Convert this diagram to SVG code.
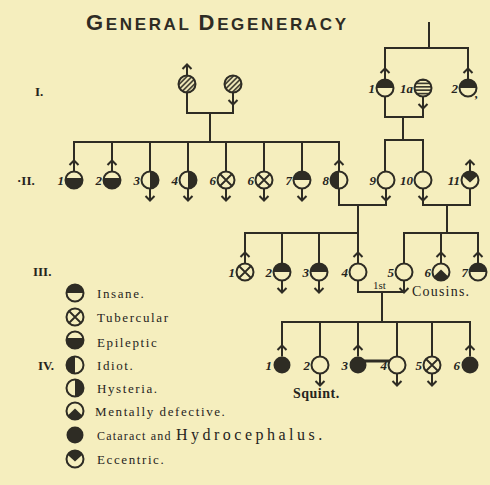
<svg xmlns="http://www.w3.org/2000/svg" width="490" height="485" viewBox="0 0 490 485">
<style>
.ln{stroke:#2e2c24;stroke-width:2;fill:none;stroke-linecap:square}
.num{font-family:"Liberation Serif",serif;font-style:italic;font-weight:bold;font-size:13px;fill:#26241d}
.gen{font-family:"Liberation Serif",serif;font-weight:bold;font-size:13px;fill:#26241d}
.leg{font-family:"Liberation Serif",serif;font-size:13px;letter-spacing:1.6px;fill:#26241d}
.ttl{font-family:"Liberation Sans",sans-serif;font-weight:bold;fill:#2e2c24}
</style>
<defs>
<pattern id="diag" width="3.6" height="3.6" patternUnits="userSpaceOnUse" patternTransform="rotate(-45)"><line x1="0" y1="1.8" x2="3.6" y2="1.8" stroke="#2e2c24" stroke-width="1.5"/></pattern>
<pattern id="horiz" width="4" height="3.4" patternUnits="userSpaceOnUse" y="0.5"><line x1="0" y1="1.7" x2="4" y2="1.7" stroke="#2e2c24" stroke-width="1.6"/></pattern>
<path id="up" d="M0,-8.5V-19.5M-4.5,-15L0,-19.5L4.5,-15" stroke="#2e2c24" stroke-width="2" fill="none"/>
<path id="down" d="M0,8.5V20.5M-4.5,16L0,20.5L4.5,16" stroke="#2e2c24" stroke-width="2" fill="none"/>
<circle id="bg" r="8.5" fill="#f5eebe"/>
<circle id="ring" r="8.5" fill="none" stroke="#2e2c24" stroke-width="2"/>
<path id="top" d="M-8.5,0A8.5,8.5 0 0 1 8.5,0Z" fill="#2e2c24"/>
<path id="bot" d="M-8.26,-2A8.5,8.5 0 1 0 8.26,-2Z" fill="#2e2c24"/>
<path id="left" d="M0,-8.5A8.5,8.5 0 0 0 0,8.5Z" fill="#2e2c24"/>
<path id="right" d="M0,-8.5A8.5,8.5 0 0 1 0,8.5Z" fill="#2e2c24"/>
<path id="tub" d="M-6,-6L6,6M-6,6L6,-6" stroke="#2e2c24" stroke-width="1.8" fill="none"/>
<path id="ment" d="M-7.2,4.5L0,-2.5L7.2,4.5A8.5,8.5 0 0 1 -7.2,4.5Z" fill="#2e2c24"/>
<circle id="full" r="8.5" fill="#2e2c24"/>
<path id="ecc" d="M-7.4,-4.2L0,2.5L7.4,-4.2A8.5,8.5 0 0 0 -7.4,-4.2Z" fill="#2e2c24"/>
<circle id="hatch" r="8.5" fill="url(#diag)"/>
<circle id="stripe" r="8.5" fill="url(#horiz)"/>
</defs>
<rect width="490" height="485" fill="#f5eebe"/>

<text class="ttl" x="86" y="30" textLength="260" lengthAdjust="spacing"><tspan font-size="22">G</tspan><tspan font-size="17">ENERAL </tspan><tspan font-size="22">D</tspan><tspan font-size="17">EGENERACY</tspan></text>

<g id="gen-labels">
<text class="gen" x="35" y="96">I.</text>
<text class="gen" x="17" y="185">·II.</text>
<text class="gen" x="33" y="276">III.</text>
<text class="gen" x="38" y="370">IV.</text>
</g>

<g id="connectors" class="ln">
<path d="M429,23V48M385,48H468M385,48V68.5M468,48V68.5M385,96.5V117M423,108.5V117M385,117H423M403,117V140M385,140H423M385,140V171.5M423,140V171.5"/>
<path d="M187,92.5V113M233,104.5V113M187,113H233M210,113V142"/>
<path d="M74,142H339M74,142V160.5M112,142V160.5M339,142V160.5M150,142V171.5M188,142V171.5M226,142V171.5M264,142V171.5M302,142V171.5"/>
<path d="M339,188.5V205M386,200.5V205M339,205H386M358,205V233M423,200.5V205M470,188.5V205M423,205H470M447,205V233"/>
<path d="M245,233H358M245,233V252.5M358,233V252.5M282,233V263.5M319,233V263.5M404,233H478M404,233V263.5M441,233V252.5M478,233V252.5"/>
<path d="M358,280.5V292M358,292H404M382,292V322"/>
<path d="M282,322H470M282,322V345.5M358,322V345.5M470,322V345.5M320,322V356.5M397,322V356.5M432,322V356.5"/>
<path d="M358,361H397" stroke-width="3.2"/>
</g>

<g id="g1-m" transform="translate(187,84)"><use href="#up"/><use href="#bg"/><use href="#hatch"/><use href="#ring"/></g>
<g id="g1-f" transform="translate(233,84)"><use href="#down"/><use href="#bg"/><use href="#hatch"/><use href="#ring"/></g>
<g id="g1-1" transform="translate(385,88)"><use href="#up"/><use href="#bg"/><use href="#top"/><use href="#ring"/><text class="num" x="-10" y="5" text-anchor="end">1</text></g>
<g id="g1-1a" transform="translate(423,88)"><use href="#down"/><use href="#bg"/><use href="#stripe"/><use href="#ring"/><text class="num" x="-10" y="5" text-anchor="end">1a</text></g>
<g id="g1-2" transform="translate(468,88)"><use href="#up"/><use href="#bg"/><use href="#top"/><use href="#ring"/><text class="num" x="-10" y="5" text-anchor="end">2</text><text class="num" x="7" y="10">,</text></g>

<g id="g2-1" transform="translate(74,180)"><use href="#up"/><use href="#bg"/><use href="#bot"/><use href="#ring"/><text class="num" x="-10" y="5" text-anchor="end">1</text></g>
<g id="g2-2" transform="translate(112,180)"><use href="#up"/><use href="#bg"/><use href="#bot"/><use href="#ring"/><text class="num" x="-10" y="5" text-anchor="end">2</text></g>
<g id="g2-3" transform="translate(150,180)"><use href="#down"/><use href="#bg"/><use href="#right"/><use href="#ring"/><text class="num" x="-10" y="5" text-anchor="end">3</text></g>
<g id="g2-4" transform="translate(188,180)"><use href="#down"/><use href="#bg"/><use href="#right"/><use href="#ring"/><text class="num" x="-10" y="5" text-anchor="end">4</text></g>
<g id="g2-5" transform="translate(226,180)"><use href="#down"/><use href="#bg"/><use href="#tub"/><use href="#ring"/><text class="num" x="-10" y="5" text-anchor="end">6</text></g>
<g id="g2-6" transform="translate(264,180)"><use href="#down"/><use href="#bg"/><use href="#tub"/><use href="#ring"/><text class="num" x="-10" y="5" text-anchor="end">6</text></g>
<g id="g2-7" transform="translate(302,180)"><use href="#down"/><use href="#bg"/><use href="#top"/><use href="#ring"/><text class="num" x="-10" y="5" text-anchor="end">7</text></g>
<g id="g2-8" transform="translate(339,180)"><use href="#up"/><use href="#bg"/><use href="#left"/><use href="#ring"/><text class="num" x="-10" y="5" text-anchor="end">8</text></g>
<g id="g2-9" transform="translate(386,180)"><use href="#down"/><use href="#bg"/><use href="#ring"/><text class="num" x="-10" y="5" text-anchor="end">9</text></g>
<g id="g2-10" transform="translate(423,180)"><use href="#down"/><use href="#bg"/><use href="#ring"/><text class="num" x="-10" y="5" text-anchor="end">10</text></g>
<g id="g2-11" transform="translate(470,180)"><use href="#up"/><use href="#bg"/><use href="#ecc"/><use href="#ring"/><text class="num" x="-10" y="5" text-anchor="end">11</text></g>

<g id="g3-1" transform="translate(245,272)"><use href="#up"/><use href="#bg"/><use href="#tub"/><use href="#ring"/><text class="num" x="-10" y="5" text-anchor="end">1</text></g>
<g id="g3-2" transform="translate(282,272)"><use href="#down"/><use href="#bg"/><use href="#top"/><use href="#ring"/><text class="num" x="-10" y="5" text-anchor="end">2</text></g>
<g id="g3-3" transform="translate(319,272)"><use href="#down"/><use href="#bg"/><use href="#top"/><use href="#ring"/><text class="num" x="-10" y="5" text-anchor="end">3</text></g>
<g id="g3-4" transform="translate(358,272)"><use href="#up"/><use href="#bg"/><use href="#ring"/><text class="num" x="-10" y="5" text-anchor="end">4</text></g>
<g id="g3-5" transform="translate(404,272)"><use href="#down"/><use href="#bg"/><use href="#ring"/><text class="num" x="-10" y="5" text-anchor="end">5</text></g>
<g id="g3-6" transform="translate(441,272)"><use href="#up"/><use href="#bg"/><use href="#ment"/><use href="#ring"/><text class="num" x="-10" y="5" text-anchor="end">6</text></g>
<g id="g3-7" transform="translate(478,272)"><use href="#up"/><use href="#bg"/><use href="#top"/><use href="#ring"/><text class="num" x="-10" y="5" text-anchor="end">7</text></g>

<g id="cousins-note">
<text x="373" y="289" font-family="Liberation Serif, serif" font-size="11" fill="#26241d">1st</text>
<text x="412" y="296" font-family="Liberation Serif, serif" font-size="14" letter-spacing="1.2" fill="#26241d">Cousins.</text>
</g>

<g id="g4-1" transform="translate(282,365)"><use href="#up"/><use href="#full"/><text class="num" x="-10" y="5" text-anchor="end">1</text></g>
<g id="g4-2" transform="translate(320,365)"><use href="#down"/><use href="#bg"/><use href="#ring"/><text class="num" x="-10" y="5" text-anchor="end">2</text></g>
<g id="g4-3" transform="translate(358,365)"><use href="#up"/><use href="#full"/><text class="num" x="-10" y="5" text-anchor="end">3</text></g>
<g id="g4-4" transform="translate(397,365)"><use href="#down"/><use href="#bg"/><use href="#ring"/><text class="num" x="-10" y="5" text-anchor="end">4</text></g>
<g id="g4-5" transform="translate(432,365)"><use href="#down"/><use href="#bg"/><use href="#tub"/><use href="#ring"/><text class="num" x="-10" y="5" text-anchor="end">5</text></g>
<g id="g4-6" transform="translate(470,365)"><use href="#up"/><use href="#full"/><text class="num" x="-10" y="5" text-anchor="end">6</text></g>
<text x="293" y="398" font-family="Liberation Serif, serif" font-weight="bold" font-size="14" letter-spacing="0.5" fill="#26241d">Squint.</text>

<g id="legend">
<g id="leg-insane"><g transform="translate(75,293)"><use href="#bg"/><use href="#top"/><use href="#ring"/></g><text class="leg" x="97" y="298">Insane.</text></g>
<g id="leg-tub"><g transform="translate(75,317)"><use href="#bg"/><use href="#tub"/><use href="#ring"/></g><text class="leg" x="97" y="322">Tubercular</text></g>
<g id="leg-epi"><g transform="translate(75,340)"><use href="#bg"/><use href="#bot"/><use href="#ring"/></g><text class="leg" x="97" y="347">Epileptic</text></g>
<g id="leg-idiot"><g transform="translate(75,365)"><use href="#bg"/><use href="#left"/><use href="#ring"/></g><text class="leg" x="97" y="370">Idiot.</text></g>
<g id="leg-hyst"><g transform="translate(75,388)"><use href="#bg"/><use href="#right"/><use href="#ring"/></g><text class="leg" x="97" y="393">Hysteria.</text></g>
<g id="leg-ment"><g transform="translate(75,411)"><use href="#bg"/><use href="#ment"/><use href="#ring"/></g><text class="leg" x="95" y="416" letter-spacing="2.4">Mentally defective.</text></g>
<g id="leg-cat"><g transform="translate(75,435)"><use href="#full"/></g><text class="leg" x="97" y="440"><tspan font-size="12" letter-spacing="1.2">Cataract and </tspan><tspan font-size="16" letter-spacing="3.5">Hydrocephalus.</tspan></text></g>
<g id="leg-ecc"><g transform="translate(75,459)"><use href="#bg"/><use href="#ecc"/><use href="#ring"/></g><text class="leg" x="97" y="464">Eccentric.</text></g>
</g>
</svg>
